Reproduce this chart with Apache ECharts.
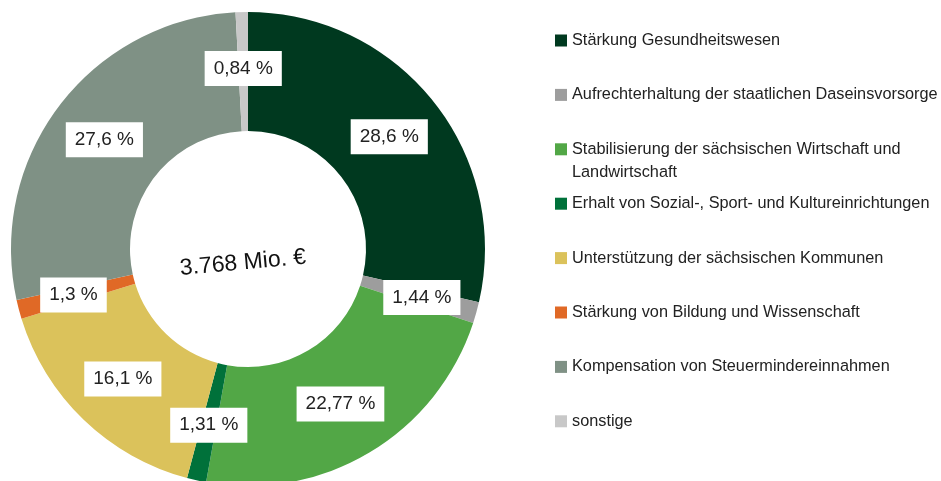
<!DOCTYPE html>
<html>
<head>
    <meta charset="utf-8"/>
    <title>Corona-Bewältigungsfonds</title>
    <script src="https://cdn.jsdelivr.net/npm/echarts@6/dist/echarts.min.js"></script>
    <style>
        html, body { margin: 0; padding: 0; background: #fff; }
        #chart1 { width: 941px; height: 481px; }
    </style>
</head>
<body>
<div id="chart1"></div>
<script type="text/javascript">
    // Daten
    var categories = [
        'Stärkung Gesundheitswesen',
        'Aufrechterhaltung der staatlichen Daseinsvorsorge',
        'Stabilisierung der sächsischen Wirtschaft und Landwirtschaft',
        'Erhalt von Sozial-, Sport- und Kultureinrichtungen',
        'Unterstützung der sächsischen Kommunen',
        'Stärkung von Bildung und Wissenschaft',
        'Kompensation von Steuermindereinnahmen',
        'sonstige'
    ];
    var shares = [28.6, 1.44, 22.77, 1.31, 16.1, 1.3, 27.6, 0.84];
    var colors = ['#00391f', '#9d9d9d', '#52a746', '#00713a', '#dbc25b', '#e06926', '#7f9185', '#c8c8c8'];
    var totalText = '3.768 Mio. €';

    var myChart1 = echarts.init(document.getElementById('chart1'));

    var pieData = categories.map(function (name, i) {
        return {name: name, value: shares[i]};
    });

    // Legende: Zeilenabstand fest, der lange Eintrag läuft in die Lücke darunter
    var legendTop = 24, legendRow = 54.4, legendText = 16.3;

    myChart1.setOption({
        animation: false,
        color: colors,
        textStyle: {fontFamily: 'Liberation Sans'},
        legend: {
            orient: 'vertical',
            left: 550,
            top: legendTop,
            icon: 'rect',
            itemWidth: 12,
            itemHeight: 12,
            itemGap: legendRow - 23,
            selectedMode: false,
            data: categories,
            formatter: function (name) {
                if (name.indexOf('Landwirtschaft') > -1) {
                    return 'Stabilisierung der sächsischen Wirtschaft und';
                }
                return name;
            },
            textStyle: {
                fontSize: legendText,
                color: '#222',
                lineHeight: 23
            }
        },
        graphic: [{
            type: 'text',
            x: 243,
            y: 263,
            z: 100,
            rotation: 0.09,
            style: {
                text: totalText,
                fontSize: 23,
                fontFamily: 'Liberation Sans',
                fill: '#111',
                align: 'center',
                verticalAlign: 'middle'
            }
        }, {
            // zweite Zeile des dritten Legendeneintrags
            type: 'text',
            x: 572,
            y: legendTop + 5 + 11.5 + 2 * legendRow + 23,
            style: {
                text: 'Landwirtschaft',
                fontSize: legendText,
                fontFamily: 'Liberation Sans',
                fill: '#222',
                align: 'left',
                verticalAlign: 'middle'
            }
        }],
        series: [{
            name: 'Anteil',
            type: 'pie',
            center: [248, 249],
            radius: [118, 237],
            startAngle: 90,
            clockwise: true,
            avoidLabelOverlap: false,
            label: {
                show: true,
                position: 'inside',
                formatter: function (p) {
                    return String(p.value).replace('.', ',') + ' %';
                },
                fontSize: 19,
                lineHeight: 19,
                color: '#222',
                backgroundColor: '#fff',
                padding: [8, 9]
            },
            labelLine: {show: false},
            emphasis: {disabled: true},
            data: pieData
        }]
    });
</script>
</body>
</html>
